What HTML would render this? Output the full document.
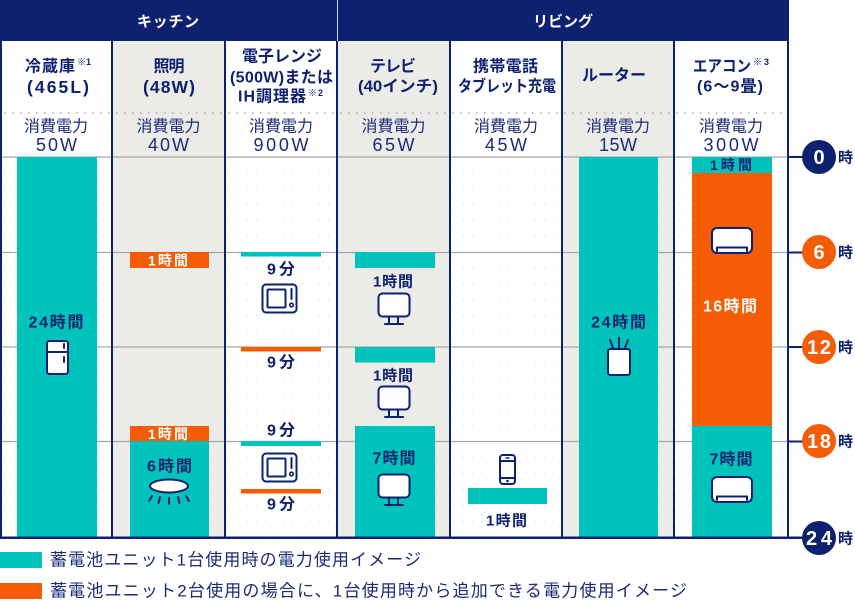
<!DOCTYPE html>
<html><head><meta charset="utf-8">
<style>
html,body{margin:0;padding:0;background:#fff;}
svg{display:block;font-family:"Liberation Sans","Noto Sans CJK JP",sans-serif;}
.b{font-weight:bold;}
</style></head>
<body>
<svg width="855" height="602" viewBox="0 0 855 602" xmlns="http://www.w3.org/2000/svg">
<!-- gray column backgrounds -->
<rect x="112" y="41" width="113" height="497" fill="#ebebe8"/>
<rect x="337" y="41" width="113" height="497" fill="#ebebe8"/>
<rect x="562" y="41" width="112" height="497" fill="#ebebe8"/>

<!-- header navy band -->
<rect x="0" y="0" width="789" height="41" fill="#0e2170"/>
<rect x="337" y="0" width="1" height="41" fill="#ffffff" opacity="0.8"/>
<text x="168" y="22" class="b" fill="#fff" font-size="15" text-anchor="middle" dominant-baseline="central" textLength="62">キッチン</text>
<text x="563" y="22" class="b" fill="#fff" font-size="15" text-anchor="middle" dominant-baseline="central" textLength="60">リビング</text>

<!-- header dotted line -->
<line x1="4" y1="113" x2="786" y2="113" stroke="#b0b0b0" stroke-width="1.6" stroke-dasharray="1.6 6.4"/>

<!-- hourly dotted lines -->
<g stroke="#cddae7" stroke-width="1" stroke-dasharray="1 8">
<line x1="4" y1="173" x2="786" y2="173"/>
<line x1="4" y1="189" x2="786" y2="189"/>
<line x1="4" y1="204.5" x2="786" y2="204.5"/>
<line x1="4" y1="220.5" x2="786" y2="220.5"/>
<line x1="4" y1="236" x2="786" y2="236"/>
<line x1="4" y1="268" x2="786" y2="268"/>
<line x1="4" y1="283.5" x2="786" y2="283.5"/>
<line x1="4" y1="299.5" x2="786" y2="299.5"/>
<line x1="4" y1="315.5" x2="786" y2="315.5"/>
<line x1="4" y1="331" x2="786" y2="331"/>
<line x1="4" y1="362.5" x2="786" y2="362.5"/>
<line x1="4" y1="378" x2="786" y2="378"/>
<line x1="4" y1="394" x2="786" y2="394"/>
<line x1="4" y1="410" x2="786" y2="410"/>
<line x1="4" y1="425.5" x2="786" y2="425.5"/>
<line x1="4" y1="457" x2="786" y2="457"/>
<line x1="4" y1="473" x2="786" y2="473"/>
<line x1="4" y1="489" x2="786" y2="489"/>
<line x1="4" y1="505" x2="786" y2="505"/>
<line x1="4" y1="521" x2="786" y2="521"/>
</g>

<!-- row lines -->
<g stroke="#a6a6a6" stroke-width="1.2">
<line x1="0" y1="157" x2="788" y2="157"/>
<line x1="0" y1="252.5" x2="788" y2="252.5"/>
<line x1="0" y1="347" x2="788" y2="347"/>
<line x1="0" y1="441.5" x2="788" y2="441.5"/>
</g>

<!-- header text -->
<g fill="#0e2170" class="b" font-size="16" text-anchor="middle" dominant-baseline="central">
<text x="50" y="67" textLength="50">冷蔵庫</text>
<text x="58" y="87" font-size="17.5" textLength="62">(465L)</text>
<text x="169" y="67" textLength="31">照明</text>
<text x="169" y="87" font-size="17.5" textLength="52">(48W)</text>
<text x="282" y="57" textLength="80">電子レンジ</text>
<text x="281.5" y="78" textLength="103">(500W)または</text>
<text x="272" y="97" textLength="68">IH調理器</text>
<text x="393" y="67" textLength="46">テレビ</text>
<text x="398" y="87" textLength="80" lengthAdjust="spacingAndGlyphs">(40インチ)</text>
<text x="505.5" y="67" textLength="65">携帯電話</text>
<text x="507" y="87" textLength="98" lengthAdjust="spacingAndGlyphs">タブレット充電</text>
<text x="614" y="76" textLength="64">ルーター</text>
<text x="722" y="67" textLength="58" lengthAdjust="spacingAndGlyphs">エアコン</text>
<text x="730" y="87" textLength="66">(6〜9畳)</text>
</g>
<g fill="#0e2170" class="b" font-size="9" dominant-baseline="central">
<text x="77" y="62" textLength="14">※1</text>
<text x="308" y="93" textLength="15">※2</text>
<text x="753" y="62" textLength="16">※3</text>
</g>
<g fill="#1a2b78" font-size="16" text-anchor="middle" dominant-baseline="central">
<text x="56" y="127" textLength="64">消費電力</text>
<text x="168.5" y="127" textLength="64">消費電力</text>
<text x="281" y="127" textLength="64">消費電力</text>
<text x="393.5" y="127" textLength="64">消費電力</text>
<text x="506" y="127" textLength="64">消費電力</text>
<text x="618" y="127" textLength="64">消費電力</text>
<text x="731" y="127" textLength="64">消費電力</text>
</g>
<g fill="#1a2b78" font-size="18" text-anchor="middle" dominant-baseline="central">
<text x="56.5" y="145" textLength="41">50W</text>
<text x="168.5" y="145" textLength="41">40W</text>
<text x="281" y="145" textLength="55">900W</text>
<text x="393.5" y="145" textLength="42">65W</text>
<text x="506" y="145" textLength="42">45W</text>
<text x="618" y="145" textLength="38">15W</text>
<text x="731" y="145" textLength="55">300W</text>
</g>

<!-- bars -->
<g fill="#00c4bb">
<rect x="17" y="157" width="80" height="381"/>
<rect x="130" y="441" width="79" height="97"/>
<rect x="241" y="252" width="80" height="4.5"/>
<rect x="241" y="441" width="80" height="5"/>
<rect x="355" y="252" width="80" height="16"/>
<rect x="355" y="347" width="80" height="15.5"/>
<rect x="355" y="426" width="80" height="112"/>
<rect x="468" y="488" width="79" height="16"/>
<rect x="579" y="157" width="79" height="381"/>
<rect x="692" y="157" width="80" height="16"/>
<rect x="692" y="426" width="80" height="112"/>
</g>
<g fill="#f45c05">
<rect x="130" y="252" width="79" height="16"/>
<rect x="130" y="426" width="79" height="15"/>
<rect x="241" y="347" width="80" height="4.5"/>
<rect x="241" y="489" width="80" height="4.5"/>
<rect x="692" y="173" width="80" height="253"/>
</g>

<!-- column borders -->
<g fill="#0e2170">
<rect x="0" y="0" width="2" height="539"/>
<rect x="111" y="41" width="2" height="497"/>
<rect x="224" y="41" width="2" height="497"/>
<rect x="336" y="41" width="2" height="497"/>
<rect x="449" y="41" width="2" height="497"/>
<rect x="561" y="41" width="2" height="497"/>
<rect x="673" y="41" width="2" height="497"/>
<rect x="787" y="0" width="2" height="539"/>
<rect x="0" y="536.5" width="805" height="2.5"/>
</g>

<!-- bar labels -->
<g class="b" font-size="16" text-anchor="middle" dominant-baseline="central" fill="#0e2170">
<text x="56" y="323" textLength="55">24時間</text>
<text x="169.5" y="467" textLength="45">6時間</text>
<text x="281" y="270" textLength="28">9分</text>
<text x="281" y="363" textLength="28">9分</text>
<text x="281" y="431" textLength="28">9分</text>
<text x="281" y="505" textLength="28">9分</text>
<text x="393" y="282" font-size="15" textLength="40">1時間</text>
<text x="393" y="376" font-size="15" textLength="40">1時間</text>
<text x="394" y="459" textLength="43">7時間</text>
<text x="506.5" y="521" font-size="15" textLength="41">1時間</text>
<text x="618.5" y="323" textLength="55">24時間</text>
<text x="731" y="165" font-size="14" textLength="42">1時間</text>
<text x="731" y="460" textLength="43">7時間</text>
</g>
<g class="b" font-size="14" text-anchor="middle" dominant-baseline="central" fill="#fff">
<text x="168" y="260.5" textLength="40">1時間</text>
<text x="168" y="434" textLength="40">1時間</text>
<text x="730" y="307" font-size="16" textLength="54">16時間</text>
</g>

<!-- icons -->
<g stroke="#0e2170" stroke-width="2" fill="#fff" stroke-linecap="round" stroke-linejoin="round">
<!-- fridge -->
<rect x="47" y="341" width="21" height="33" rx="2.5"/>
<line x1="47" y1="352" x2="68" y2="352"/>
<line x1="64" y1="344" x2="64" y2="348"/>
<line x1="64" y1="357" x2="64" y2="362"/>
<!-- lamp -->
<ellipse cx="169" cy="486" rx="19" ry="6.5"/>
<line x1="152" y1="496" x2="149" y2="501"/>
<line x1="160" y1="497" x2="158.5" y2="503"/>
<line x1="169" y1="498" x2="169" y2="504"/>
<line x1="178" y1="497" x2="179.5" y2="503"/>
<line x1="186" y1="496" x2="189" y2="501"/>
<!-- microwave 1 -->
<rect x="262.5" y="284.5" width="34" height="28" rx="3.5"/>
<rect x="267.5" y="289.5" width="18" height="18" rx="1"/>
<line x1="291.5" y1="289" x2="291.5" y2="299" fill="none"/>
<circle cx="291.5" cy="305" r="1.8" stroke-width="1.6"/>
<!-- microwave 2 -->
<rect x="262.5" y="453.5" width="34" height="28" rx="3.5"/>
<rect x="267.5" y="458.5" width="18" height="18" rx="1"/>
<line x1="291.5" y1="458" x2="291.5" y2="468" fill="none"/>
<circle cx="291.5" cy="474" r="1.8" stroke-width="1.6"/>
<!-- TV 1 -->
<rect x="378.5" y="293.5" width="31" height="23" rx="4"/>
<line x1="389" y1="317" x2="389" y2="323"/>
<line x1="398" y1="317" x2="398" y2="323"/>
<line x1="385" y1="324" x2="403" y2="324"/>
<!-- TV 2 -->
<rect x="378.5" y="386.5" width="31" height="23" rx="4"/>
<line x1="389" y1="410" x2="389" y2="416"/>
<line x1="398" y1="410" x2="398" y2="416"/>
<line x1="385" y1="417" x2="403" y2="417"/>
<!-- TV 3 -->
<rect x="378.5" y="474.5" width="31" height="23" rx="4"/>
<line x1="389" y1="498" x2="389" y2="504"/>
<line x1="398" y1="498" x2="398" y2="504"/>
<line x1="385" y1="505" x2="403" y2="505"/>
<!-- phone -->
<rect x="500" y="455" width="15" height="29" rx="3"/>
<line x1="500" y1="461" x2="515" y2="461"/>
<line x1="500" y1="478" x2="515" y2="478"/>
<line x1="506" y1="458" x2="509" y2="458" stroke-width="1.4"/>
<circle cx="507.5" cy="481" r="0.8" fill="#0e2170" stroke-width="1"/>
<!-- router -->
<rect x="608" y="349" width="22" height="26" rx="2.5"/>
<line x1="613" y1="348" x2="610" y2="340"/>
<line x1="619" y1="348" x2="619" y2="338"/>
<line x1="625" y1="348" x2="628" y2="340"/>
<!-- AC 1 -->
<rect x="712" y="228" width="40" height="25" rx="5"/>
<path d="M717 251 V247.5 H747 V251" fill="none"/>
<!-- AC 2 -->
<rect x="712" y="477" width="40" height="25" rx="5"/>
<path d="M717 500 V496.5 H747 V500" fill="none"/>
</g>

<!-- axis -->
<g stroke="#0e2170" stroke-width="2">
<line x1="788" y1="157" x2="806" y2="157"/>
<line x1="788" y1="252.5" x2="806" y2="252.5"/>
<line x1="788" y1="347" x2="806" y2="347"/>
<line x1="788" y1="441.5" x2="806" y2="441.5"/>
</g>
<circle cx="819" cy="157" r="17" fill="#0e2170"/>
<circle cx="819" cy="252" r="17" fill="#f45c05"/>
<circle cx="819" cy="347" r="17" fill="#f45c05"/>
<circle cx="819" cy="441" r="17" fill="#f45c05"/>
<circle cx="819" cy="538" r="17" fill="#0e2170"/>
<g class="b" fill="#fff" font-size="20" text-anchor="middle" dominant-baseline="central">
<text x="819" y="158">0</text>
<text x="819" y="253">6</text>
<text x="819" y="348" textLength="24">12</text>
<text x="819" y="442" textLength="24">18</text>
<text x="819" y="539" textLength="26">24</text>
</g>
<g class="b" fill="#0e2170" font-size="15" dominant-baseline="central">
<text x="838" y="158">時</text>
<text x="838" y="253">時</text>
<text x="838" y="348">時</text>
<text x="838" y="442">時</text>
<text x="838" y="539">時</text>
</g>

<!-- legend -->
<rect x="0" y="552" width="42" height="16" fill="#00c4bb"/>
<rect x="0" y="583" width="42" height="16" fill="#f45c05"/>
<g fill="#1a2b78" font-size="17" dominant-baseline="central">
<text x="50" y="560" textLength="371">蓄電池ユニット1台使用時の電力使用イメージ</text>
<text x="50" y="591" textLength="637">蓄電池ユニット2台使用の場合に、1台使用時から追加できる電力使用イメージ</text>
</g>
</svg>
</body></html>
